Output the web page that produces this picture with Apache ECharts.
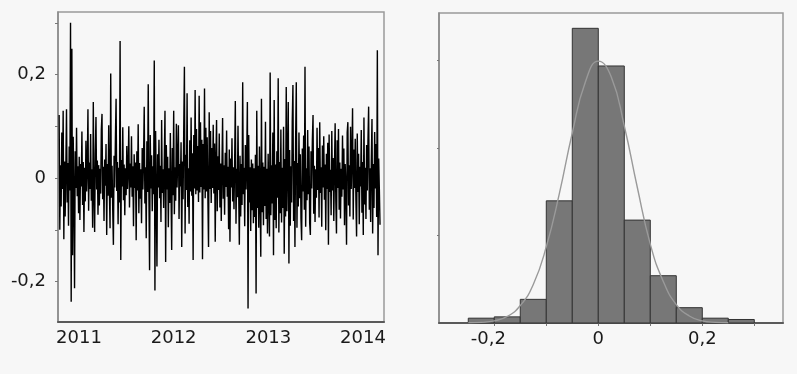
<!DOCTYPE html>
<html><head><meta charset="utf-8">
<script src="https://cdn.jsdelivr.net/npm/echarts@6/dist/echarts.min.js"></script>
<style>html,body{margin:0;padding:0;background:#f7f7f7}#c{width:797px;height:374px}</style>
</head><body><div id="c"></div>
<script>
// Daily returns read (estimated) from the left panel, in time order
const returns = [
0.122,-0.100,0.025,-0.055,0.088,-0.021,0.130,-0.118,0.032,-0.074,0.018,0.133,-0.047,0.029,-0.092,0.061,-0.024,0.300,-0.239,0.250,
-0.149,0.080,-0.028,-0.213,0.052,-0.019,0.097,-0.035,0.023,-0.068,0.041,-0.081,0.027,-0.016,0.090,-0.052,0.031,-0.104,0.020,-0.045,
0.072,-0.026,0.019,0.133,-0.063,0.030,-0.021,0.085,-0.044,0.017,-0.096,0.147,-0.030,-0.104,0.048,0.118,-0.022,0.034,-0.071,0.025,
-0.053,0.018,-0.030,0.094,0.124,-0.041,0.022,-0.083,0.036,-0.015,0.066,-0.110,0.027,-0.034,0.102,-0.020,-0.097,0.202,-0.038,0.024,
-0.061,-0.129,0.043,-0.018,0.076,0.153,-0.025,0.031,-0.089,0.020,-0.047,0.265,-0.158,0.035,-0.016,0.098,-0.043,0.026,-0.072,0.019,
-0.033,0.062,-0.021,0.015,0.100,-0.057,0.028,-0.018,0.081,-0.036,0.023,-0.093,0.046,-0.019,0.030,-0.120,0.052,-0.024,0.104,-0.068,
0.029,-0.040,0.017,-0.087,0.058,-0.022,0.035,0.138,-0.049,0.021,-0.116,0.071,-0.027,0.181,-0.033,-0.178,0.083,-0.020,0.044,-0.064,
0.023,-0.031,0.227,-0.217,0.091,-0.026,-0.171,0.046,-0.018,0.074,-0.039,0.024,-0.085,0.112,-0.029,0.017,-0.058,0.037,0.130,-0.162,
0.064,-0.022,0.041,-0.095,0.019,-0.048,0.087,-0.025,-0.139,0.058,-0.033,0.130,-0.070,0.021,-0.044,0.105,-0.018,0.036,0.102,-0.079,
0.027,-0.016,0.069,-0.133,0.032,-0.041,0.094,0.215,-0.107,0.045,-0.023,0.164,-0.056,0.019,-0.088,0.073,-0.026,0.117,-0.034,0.048,
-0.158,0.083,-0.020,0.170,-0.031,0.095,-0.024,0.062,-0.046,0.159,-0.028,0.108,-0.017,0.074,-0.157,0.066,-0.022,0.173,-0.039,0.097,
-0.026,0.079,-0.035,-0.133,0.127,-0.021,0.091,-0.048,0.058,-0.019,0.103,-0.030,0.067,-0.123,0.034,0.112,-0.064,0.042,-0.023,0.086,
-0.057,0.028,-0.083,0.019,0.116,-0.040,0.025,-0.071,0.049,-0.017,0.092,-0.036,0.022,-0.099,0.055,-0.123,0.038,-0.018,0.077,-0.045,
0.021,-0.060,0.032,0.149,-0.088,0.018,-0.037,0.101,-0.025,-0.129,0.043,-0.074,0.027,-0.052,0.185,-0.031,0.020,-0.093,0.064,-0.022,
0.040,0.147,-0.252,0.083,-0.047,0.021,-0.102,0.036,-0.062,0.028,-0.087,0.019,-0.075,0.045,-0.223,0.130,-0.058,0.024,-0.096,0.061,
-0.035,-0.152,0.153,-0.066,0.030,-0.091,0.022,-0.054,0.109,-0.079,0.018,-0.107,0.047,-0.041,-0.113,0.204,-0.072,0.025,-0.049,0.088,
-0.149,0.151,-0.081,0.026,-0.097,0.052,-0.038,0.193,-0.105,0.031,-0.068,0.094,-0.086,0.020,-0.058,0.099,-0.146,0.037,-0.074,0.176,
-0.064,0.028,0.147,-0.165,0.054,-0.092,0.023,-0.047,0.110,0.180,-0.083,0.033,-0.133,0.071,0.185,-0.096,0.029,-0.055,0.088,-0.039,
0.046,-0.078,-0.120,0.057,-0.026,0.082,-0.061,0.215,-0.094,0.019,-0.043,0.093,-0.031,0.061,-0.087,-0.110,0.052,-0.020,0.074,0.122,
-0.069,0.024,-0.085,0.017,-0.038,0.097,-0.023,0.058,-0.076,0.108,-0.029,0.021,-0.094,0.063,-0.018,0.081,-0.042,0.026,-0.101,0.047,
-0.021,0.068,-0.129,0.084,-0.027,0.016,-0.072,0.091,-0.024,0.039,-0.083,0.020,0.106,-0.044,-0.107,0.073,-0.019,0.095,-0.061,0.030,
-0.078,0.018,-0.036,0.082,-0.022,0.057,-0.091,0.027,-0.017,-0.129,0.088,0.108,-0.053,0.025,-0.074,0.099,-0.021,0.040,0.135,-0.080,
0.055,-0.019,0.076,-0.042,-0.113,0.086,-0.027,0.047,-0.089,0.022,-0.016,0.093,-0.067,0.031,-0.110,0.117,-0.051,0.020,-0.079,0.064,
-0.024,0.072,0.138,-0.061,0.019,-0.085,0.034,0.114,-0.107,0.027,-0.058,0.089,-0.020,0.066,-0.075,0.247,-0.149,0.038,-0.022,-0.090
];
const seriesStart = 2010.79;   // first observation (fractional year)
const seriesEnd = 2014.18;     // last observation
const yearTicks = [2011, 2012, 2013, 2014];
const retTicks = [-0.2, -0.1, 0, 0.1, 0.2, 0.3];
const retLabels = [-0.2, 0, 0.2];

// Histogram of returns (density)
const binEdges = [-0.25, -0.2, -0.15, -0.1, -0.05, 0, 0.05, 0.1, 0.15, 0.2, 0.25, 0.3];
const binDensity = [0.11, 0.14, 0.54, 2.79, 6.73, 5.87, 2.35, 1.08, 0.35, 0.11, 0.08];
// Fitted normal curve
const curveX = [-0.25,-0.225,-0.2,-0.175,-0.15,-0.125,-0.1,-0.075,-0.05,-0.025,0,0.025,0.05,0.075,0.1,0.125,0.15,0.175,0.2,0.225,0.25];
const curveY = [0.004,0.015,0.05,0.15,0.40,0.88,1.74,2.95,4.34,5.50,5.98,5.62,4.50,3.10,1.80,0.95,0.42,0.16,0.05,0.015,0.004];
const histTicks = [-0.2, -0.1, 0, 0.1, 0.2, 0.3];
const histLabels = [-0.2, 0, 0.2];
const densTicks = [2, 4, 6];

const FONT = 'DejaVu Sans';
const TXT = '#1a1a1a';
const fmt = v => (Math.abs(v) < 1e-9 ? '0' : String(+v.toFixed(2)).replace('.', ','));

const n = returns.length;
const tsData = returns.map((r, i) => [seriesStart + i * (seriesEnd - seriesStart) / (n - 1), r]);
const histData = binDensity.map((d, i) => [binEdges[i], binEdges[i + 1], d]);
const curveData = curveX.map((x, i) => [x, curveY[i]]);

const chart = echarts.init(document.getElementById('c'), null, {renderer: 'canvas'});
chart.setOption({
  backgroundColor: '#f7f7f7',
  animation: false,
  grid: [
    {left: 58, top: 12, width: 326, height: 310, show: true, borderColor: '#9a9a9a', borderWidth: 1.5, backgroundColor: 'transparent'},
    {left: 439, top: 13, width: 344, height: 310, show: true, borderColor: '#9a9a9a', borderWidth: 1.5, backgroundColor: 'transparent'}
  ],
  xAxis: [
    {type: 'value', gridIndex: 0, min: 2010.778, max: 2014.222,
     axisLine: {show: true, onZero: false, lineStyle: {color: '#5a5a5a', width: 2}},
     axisTick: {show: false},
     splitLine: {show: false},
     axisLabel: {customValues: yearTicks, formatter: v => String(Math.round(v)), fontFamily: FONT, fontSize: 18, color: TXT, margin: 7}},
    {type: 'value', gridIndex: 1, min: -0.3063, max: 0.3552,
     axisLine: {show: true, onZero: false, lineStyle: {color: '#5a5a5a', width: 2}},
     axisTick: {show: true, customValues: histTicks, length: 3, lineStyle: {color: '#777'}},
     splitLine: {show: false},
     axisLabel: {customValues: histLabels,
       formatter: v => v < 0 ? '{neg|' + fmt(v) + '}' : fmt(v),
       rich: {neg: {fontFamily: FONT, fontSize: 18, color: TXT, padding: [0, 12, 0, 0]}},
       fontFamily: FONT, fontSize: 18, color: TXT, margin: 7}}
  ],
  yAxis: [
    {type: 'value', gridIndex: 0, min: -0.278, max: 0.3208,
     axisLine: {show: true, onZero: false, lineStyle: {color: '#8a8a8a', width: 1.5}},
     axisTick: {show: true, customValues: retTicks, length: 3, lineStyle: {color: '#777'}},
     splitLine: {show: false},
     axisLabel: {customValues: retLabels, formatter: v => fmt(v), fontFamily: FONT, fontSize: 18, color: TXT, margin: 12}},
    {type: 'value', gridIndex: 1, min: 0, max: 7.08,
     axisLine: {show: true, onZero: false, lineStyle: {color: '#8a8a8a', width: 1.5}},
     axisTick: {show: true, customValues: densTicks, length: 2, lineStyle: {color: '#777'}},
     splitLine: {show: false},
     axisLabel: {show: false}}
  ],
  series: [
    {type: 'line', xAxisIndex: 0, yAxisIndex: 0, data: tsData, showSymbol: false, symbol: 'none',
     sampling: false, lineStyle: {color: '#000', width: 1.4, join: 'bevel'}, z: 2},
    {type: 'custom', xAxisIndex: 1, yAxisIndex: 1, data: histData, encode: {x: [0, 1], y: 2},
     renderItem: (params, api) => {
       const p0 = api.coord([api.value(0), api.value(2)]);
       const p1 = api.coord([api.value(1), 0]);
       return {type: 'rect', shape: {x: p0[0], y: p0[1], width: p1[0] - p0[0], height: p1[1] - p0[1]},
               style: {fill: '#777777', stroke: '#333', lineWidth: 1}};
     }, z: 2},
    {type: 'line', xAxisIndex: 1, yAxisIndex: 1, data: curveData, smooth: true, showSymbol: false, symbol: 'none',
     lineStyle: {color: '#9a9a9a', width: 1.4}, z: 3}
  ]
});
</script></body></html>
